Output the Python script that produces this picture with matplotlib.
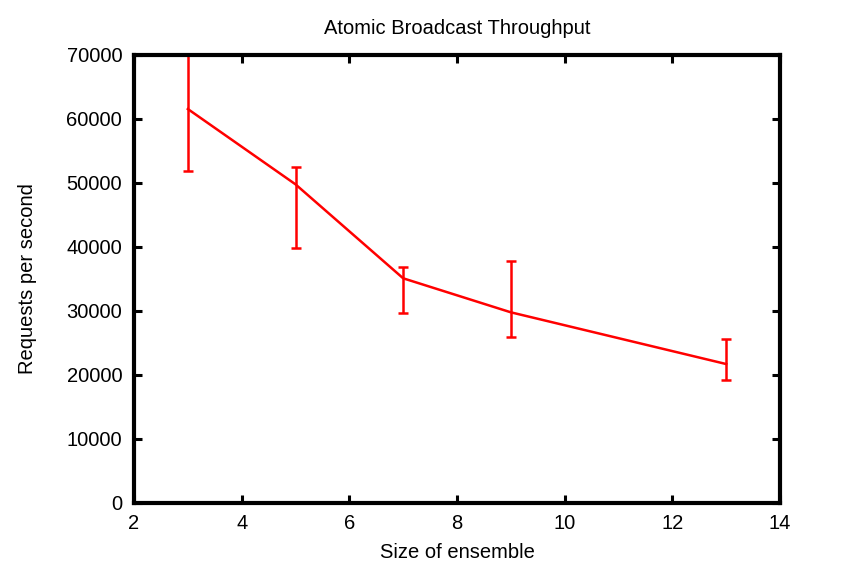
import matplotlib
matplotlib.use("Agg")
import matplotlib.pyplot as plt

ensemble_size = [3, 5, 7, 9, 13]
throughput = [61550, 49770, 35070, 29750, 21660]
err_low = [51800, 39860, 29600, 25930, 19160]
err_high = [71500, 52430, 36790, 37730, 25530]

plt.rcParams['font.family'] = ['Liberation Sans', 'DejaVu Sans']

fs = 14.5
fig = plt.figure(figsize=(8.41, 5.83), dpi=100)
ax = fig.add_axes([134/841, 1-502.5/583, (780-134)/841, (502.5-55)/583])

yerr = [[t - l for t, l in zip(throughput, err_low)],
        [h - t for t, h in zip(throughput, err_high)]]
ax.errorbar(ensemble_size, throughput, yerr=yerr, color='#ff0000', lw=1.8,
            elinewidth=1.8, capsize=3.5, capthick=1.8)

ax.set_xlim(2, 14)
ax.set_ylim(0, 70000)
ax.set_xticks(range(2, 15, 2))
ax.set_yticks(range(0, 70001, 10000))
for s in ax.spines.values():
    s.set_linewidth(3)
ax.tick_params(direction='in', top=True, right=True, width=2.2, length=5.5,
               labelsize=fs)
ax.tick_params(axis='y', pad=8.5)
ax.tick_params(axis='x', pad=8.5)
ax.set_title('Atomic Broadcast Throughput', fontsize=fs, pad=15)
ax.set_xlabel('Size of ensemble', fontsize=fs, labelpad=7)
ax.set_ylabel('Requests per second', fontsize=fs, labelpad=21)

fig.savefig('out.png', dpi=100)
